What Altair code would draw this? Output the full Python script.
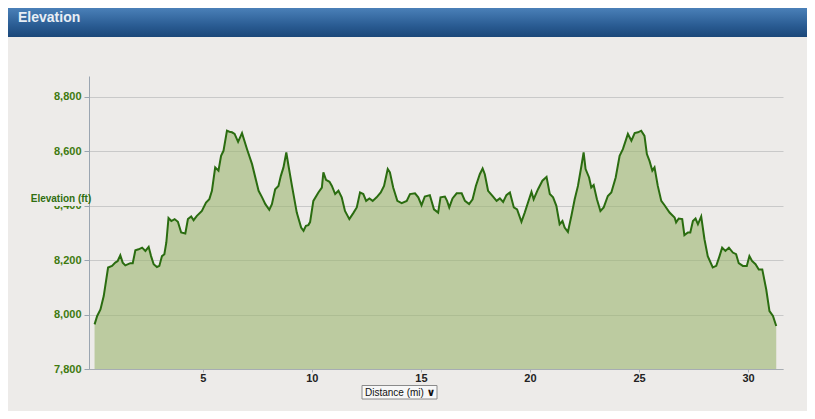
import altair as alt
import pandas as pd

miles = [
    0.04, 0.16, 0.31, 0.46, 0.66, 0.84, 0.99, 1.10, 1.22, 1.33, 1.45, 1.68, 1.79, 1.91, 2.06, 2.22,
    2.37, 2.52, 2.63, 2.75, 2.90, 3.01, 3.13, 3.24, 3.33, 3.43, 3.56, 3.71, 3.86, 4.01, 4.20, 4.32,
    4.47, 4.58, 4.73, 4.96, 5.15, 5.30, 5.42, 5.57, 5.72, 5.84, 5.95, 6.11, 6.22, 6.34, 6.46, 6.62,
    6.80, 7.03, 7.26, 7.56, 7.72, 7.87, 8.05, 8.17, 8.32, 8.47, 8.58, 8.70, 8.83, 8.93, 9.09, 9.31,
    9.51, 9.62, 9.73, 9.84, 9.92, 10.07, 10.30, 10.46, 10.53, 10.65, 10.81, 10.92, 11.07, 11.22,
    11.37, 11.52, 11.72, 11.90, 12.06, 12.21, 12.36, 12.49, 12.64, 12.79, 12.97, 13.16, 13.31,
    13.48, 13.58, 13.73, 13.92, 14.12, 14.35, 14.50, 14.73, 14.88, 15.03, 15.18, 15.41, 15.60,
    15.79, 15.90, 16.10, 16.20, 16.30, 16.45, 16.64, 16.87, 17.02, 17.21, 17.37, 17.52, 17.70,
    17.83, 17.93, 18.08, 18.28, 18.47, 18.62, 18.77, 18.92, 19.08, 19.26, 19.41, 19.61, 19.76,
    19.91, 20.07, 20.17, 20.37, 20.57, 20.76, 20.91, 21.06, 21.21, 21.36, 21.49, 21.59, 21.74,
    21.90, 22.05, 22.20, 22.36, 22.46, 22.55, 22.71, 22.81, 22.92, 23.07, 23.23, 23.38, 23.57,
    23.73, 23.93, 24.11, 24.26, 24.49, 24.65, 24.80, 24.95, 25.10, 25.25, 25.36, 25.48, 25.61,
    25.71, 25.86, 26.02, 26.17, 26.40, 26.63, 26.70, 26.82, 26.98, 27.08, 27.24, 27.35, 27.47,
    27.59, 27.70, 27.85, 28.00, 28.15, 28.38, 28.54, 28.69, 28.81, 28.96, 29.12, 29.30, 29.45,
    29.57, 29.76, 29.94, 30.06, 30.18, 30.34, 30.49, 30.65, 30.83, 30.98, 31.14, 31.29,
]

elevation_ft = [
    7964, 7995, 8019, 8068, 8173, 8179, 8191, 8197, 8218, 8191, 8181, 8189, 8189, 8236, 8240, 8246,
    8234, 8249, 8215, 8185, 8175, 8179, 8215, 8222, 8265, 8355, 8344, 8351, 8341, 8302, 8298, 8351,
    8361, 8347, 8363, 8381, 8412, 8424, 8455, 8541, 8529, 8584, 8602, 8676, 8672, 8670, 8664, 8635,
    8667, 8608, 8553, 8455, 8431, 8406, 8385, 8406, 8461, 8473, 8510, 8541, 8596, 8547, 8473, 8375,
    8320, 8308, 8326, 8329, 8340, 8418, 8449, 8467, 8523, 8495, 8488, 8473, 8443, 8455,
    8431, 8381, 8351, 8373, 8394, 8449, 8443, 8418, 8427, 8418, 8431, 8449, 8473,
    8535, 8523, 8467, 8418, 8410, 8418, 8443, 8446, 8431, 8402, 8434, 8439, 8387,
    8375, 8431, 8434, 8418, 8394, 8427, 8446, 8446, 8418, 8406, 8424, 8473, 8516,
    8537, 8516, 8455, 8436, 8418, 8427, 8414, 8439, 8449, 8394, 8387, 8341, 8375,
    8412, 8451, 8424, 8461, 8492, 8506, 8443, 8431, 8400, 8332, 8344, 8320, 8304,
    8363, 8424, 8473, 8547, 8596, 8535, 8504, 8467, 8476, 8424, 8381, 8394, 8436,
    8449, 8504, 8584, 8608, 8664, 8639, 8667, 8670, 8676, 8657, 8590, 8565, 8529,
    8541, 8473, 8418, 8402, 8375, 8357, 8339, 8353, 8351, 8292, 8302, 8302, 8344,
    8353, 8332, 8361, 8277, 8215, 8173, 8179, 8215, 8246, 8234, 8246, 8228, 8222,
    8189, 8179, 8179, 8215, 8197, 8185, 8166, 8166, 8093, 8013, 7995, 7958,
]

y_ticks = [7800, 8000, 8200, 8400, 8600, 8800]
x_ticks = [5, 10, 15, 20, 25, 30]
header_title = "Elevation"
y_title = "Elevation (ft)"
x_title = "Distance (mi)"

df = pd.DataFrame({"mile": miles, "elev": elevation_ft})
one = pd.DataFrame({"k": [0]})

W, H = 694, 293
BG = "#EDEBE9"
FONT = "Liberation Sans"

xs = alt.Scale(domain=[-0.215, 31.6], nice=False, zero=False)
ys = alt.Scale(domain=[7800, 8877], nice=False, zero=False)

base = alt.Chart(df)

area = base.mark_area(color="#9bb66f", opacity=0.6).encode(
    x=alt.X("mile:Q", scale=xs,
            axis=alt.Axis(values=x_ticks, title=None, grid=False, format="d", labelFont=FONT,
                          labelFontSize=11, labelFontWeight="bold", labelColor="#222222",
                          tickSize=3, tickColor="#a7adb3", domainColor="#a7adb3",
                          labelPadding=0, labelFlush=False)),
    y=alt.Y("elev:Q", scale=ys,
            axis=alt.Axis(values=y_ticks, title=None, format=",.0f", grid=True,
                          gridColor="#c9c9c9", labelFont=FONT, labelFontSize=11,
                          labelFontWeight="bold", labelColor="#3f7a10", tickSize=5,
                          tickColor="#9aa5b1", domainColor="#9aa5b1", labelPadding=3)),
    y2=alt.datum(7800),
)

line = base.mark_line(color="#2a6c10", strokeWidth=2).encode(
    x=alt.X("mile:Q", scale=xs),
    y=alt.Y("elev:Q", scale=ys),
)

header = alt.Chart(one).mark_rect(
    color=alt.LinearGradient(
        gradient="linear",
        stops=[alt.GradientStop(color="#4a80b8", offset=0),
               alt.GradientStop(color="#2a5c93", offset=0.6),
               alt.GradientStop(color="#1b4779", offset=1)],
        x1=0, x2=0, y1=0, y2=1),
).encode(x=alt.value(-81), x2=alt.value(718), y=alt.value(-68), y2=alt.value(-39))

header_text = alt.Chart(one).mark_text(
    text=header_title, font=FONT, fontSize=14, fontWeight="bold", color="#e8eef5",
    align="left", baseline="alphabetic",
).encode(x=alt.value(-71), y=alt.value(-54))

cover = alt.Chart(one).mark_rect(color=BG).encode(
    x=alt.value(-60), x2=alt.value(-1), y=alt.value(116), y2=alt.value(130))

ytitle = alt.Chart(one).mark_text(
    text=y_title, font=FONT, fontSize=10, fontWeight="bold", color="#2f6e10",
    align="center", baseline="middle",
).encode(x=alt.value(-28), y=alt.value(123))

box = alt.Chart(one).mark_rect(color="#f7f7f7", stroke="#8a8a8a", strokeWidth=1).encode(
    x=alt.value(273), x2=alt.value(348), y=alt.value(309.5), y2=alt.value(323))

box_text = alt.Chart(one).mark_text(
    text=x_title, font=FONT, fontSize=10, color="#111111", align="left", baseline="middle",
).encode(x=alt.value(276), y=alt.value(316.5))

chevron = alt.Chart(one).mark_text(
    text="∨", font="DejaVu Sans", fontSize=11, fontWeight="bold", color="#111111",
    align="center", baseline="middle",
).encode(x=alt.value(342), y=alt.value(316.5))

chart = alt.layer(
    area, line, header, header_text, cover, ytitle, box, box_text, chevron
).properties(
    width=W, height=H,
    autosize=alt.AutoSizeParams(type="none"),
    padding={"left": 81, "top": 68, "right": 24, "bottom": 42},
    background=BG,
).configure_view(stroke=None)

chart.save("out.html", embed_options={"renderer": "svg", "actions": False})
